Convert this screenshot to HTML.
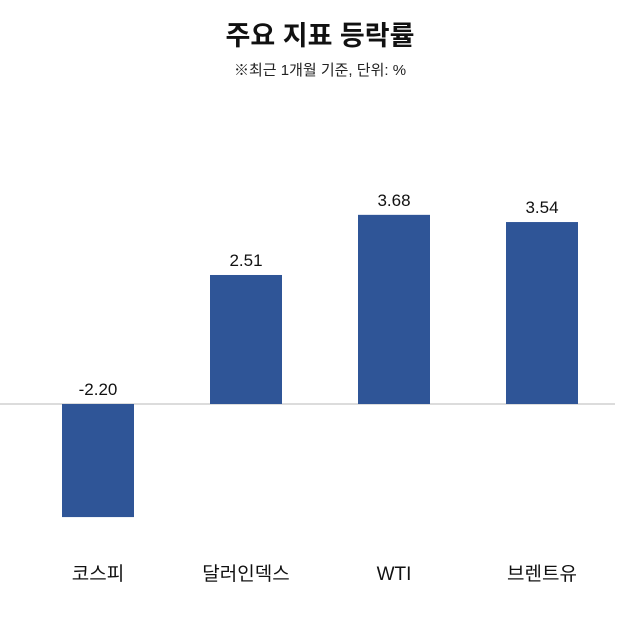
<!DOCTYPE html>
<html><head><meta charset="utf-8"><style>
body{margin:0;background:#fff;width:640px;height:618px;overflow:hidden;font-family:"Liberation Sans","Noto Sans CJK KR",sans-serif}
</style></head><body>
<svg id="c" width="640" height="618">
<text x="320" y="45" text-anchor="middle" font-size="27" font-weight="bold" fill="#111" font-family="Liberation Sans, Noto Sans CJK KR, sans-serif">주요 지표 등락률</text>
<text x="320" y="75" text-anchor="middle" font-size="15" fill="#222" font-family="Liberation Sans, Noto Sans CJK KR, sans-serif">※최근 1개월 기준, 단위: %</text>
<line x1="0" y1="404" x2="615" y2="404" stroke="#d0d0d0" stroke-width="1.5"/>
</svg>
<script>
const categories=["코스피","달러인덱스","WTI","브렌트유"];
const values=[-2.20,2.51,3.68,3.54];
const labels=["-2.20","2.51","3.68","3.54"];
const svg=document.getElementById('c');
const NS="http://www.w3.org/2000/svg";
const y=v=>404-v*51.4;
const xc=i=>98+i*148;
const f="Liberation Sans, Noto Sans CJK KR, sans-serif";
values.forEach((v,i)=>{
 const r=document.createElementNS(NS,'rect');
 r.setAttribute('x',xc(i)-36);r.setAttribute('width',72);
 r.setAttribute('y',Math.min(y(v),y(0)));r.setAttribute('height',Math.abs(y(v)-y(0)));
 r.setAttribute('fill','#2f5597');
 
 
 svg.appendChild(r);
 const t=document.createElementNS(NS,'text');
 t.setAttribute('x',xc(i));t.setAttribute('y',(v>=0?y(v):y(0))-9);
 t.setAttribute('text-anchor','middle');t.setAttribute('font-size','17');t.setAttribute('fill','#111');t.setAttribute('font-family',f);
 t.textContent=labels[i];
 
 
 svg.appendChild(t);
 const c=document.createElementNS(NS,'text');
 c.setAttribute('x',xc(i));c.setAttribute('y',580);
 c.setAttribute('text-anchor','middle');c.setAttribute('font-size','19');c.setAttribute('fill','#111');c.setAttribute('font-family',f);
 c.textContent=categories[i];
 
 
 svg.appendChild(c);
});
</script>
</body></html>
